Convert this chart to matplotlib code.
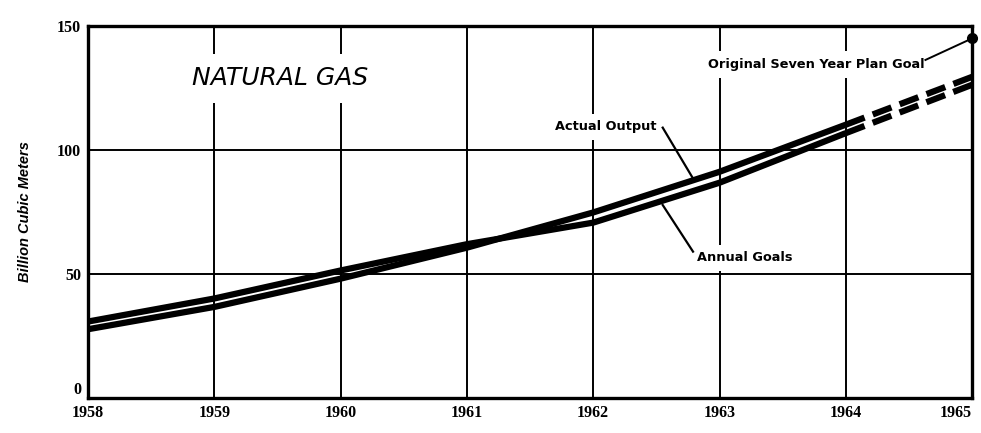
import matplotlib
matplotlib.use("Agg")
import matplotlib.pyplot as plt

years = [1958, 1959, 1960, 1961, 1962, 1963, 1964]
actual_output = [27.7, 36.7, 48.1, 60.6, 74.8, 91.2, 110.2]
annual_goals = [30.8, 40.1, 51.4, 62.0, 70.7, 86.8, 106.8]
proj_years = [1964, 1965]
actual_proj = [110.2, 129.5]
goals_proj = [106.8, 126.3]
plan_goal_year = 1965
plan_goal_value = 145
x_ticks = [1958, 1959, 1960, 1961, 1962, 1963, 1964, 1965]
y_ticks = [0, 50, 100, 150]

fig = plt.figure(figsize=(9.81, 4.33), dpi=100)
ax = fig.add_axes([0.0897, 0.081, 0.9013, 0.859])
ax.set_xlim(1958, 1965)
ax.set_ylim(0, 150)

for x in x_ticks:
    ax.axvline(x, color="black", lw=1.4, zorder=1)
for y in y_ticks:
    ax.axhline(y, color="black", lw=1.4, zorder=1)

lw = 4.5
ax.plot(years, actual_output, color="black", lw=lw, solid_capstyle="butt", zorder=4)
ax.plot(years, annual_goals, color="black", lw=lw, solid_capstyle="butt", zorder=4)
ax.plot(proj_years, actual_proj, color="black", lw=lw, linestyle=(0, (3.2, 1.4)),
        dash_capstyle="butt", zorder=4)
ax.plot(proj_years, goals_proj, color="black", lw=lw, linestyle=(0, (3.2, 1.4)),
        dash_capstyle="butt", zorder=4)
ax.plot([plan_goal_year], [plan_goal_value], "o", color="black", ms=7, zorder=6,
        clip_on=False)

for s in ax.spines.values():
    s.set_linewidth(2.4)
    s.set_zorder(5)

ax.set_xticks(x_ticks)
ax.set_yticks(y_ticks)
ax.tick_params(length=0, pad=5)
for lab in ax.get_xticklabels() + ax.get_yticklabels():
    lab.set_fontfamily("Liberation Serif")
    lab.set_fontweight("bold")
    lab.set_fontsize(11.5)
last = ax.get_xticklabels()[-1]
last.set_horizontalalignment("right")
last.set_x(1965.09)
ax.get_yticklabels()[0].set_verticalalignment("bottom")

ax.set_ylabel("Billion Cubic Meters", family="Liberation Sans", fontweight="bold",
              style="italic", fontsize=10.5, labelpad=18)

white = dict(facecolor="white", edgecolor="none")
ax.text(1959.52, 129, "NATURAL GAS", ha="center", va="center", fontsize=18,
        style="italic", family="DejaVu Sans",
        bbox=dict(boxstyle="square,pad=0.5", **white), zorder=3)
ax.text(1962.5, 109.3, "Actual Output", ha="right", va="center", fontsize=9.3,
        fontweight="bold", family="DejaVu Sans",
        bbox=dict(boxstyle="square,pad=0.5", **white), zorder=3)
ax.text(1962.82, 56.5, "Annual Goals", ha="left", va="center", fontsize=9.3,
        fontweight="bold", family="DejaVu Sans",
        bbox=dict(boxstyle="square,pad=0.5", **white), zorder=3)
ax.text(1964.62, 134.5, "Original Seven Year Plan Goal", ha="right", va="center",
        fontsize=9.3, fontweight="bold", family="DejaVu Sans",
        bbox=dict(boxstyle="square,pad=0.55", **white), zorder=3)

ax.plot([1962.55, 1962.79], [109.0, 88.5], color="black", lw=1.6, zorder=4)
ax.plot([1962.55, 1962.79], [77.8, 59.0], color="black", lw=1.6, zorder=4)
ax.plot([1964.63, 1965], [136.3, plan_goal_value], color="black", lw=1.4, zorder=4,
        clip_on=False)

fig.savefig("out.png", dpi=100, facecolor="white")
